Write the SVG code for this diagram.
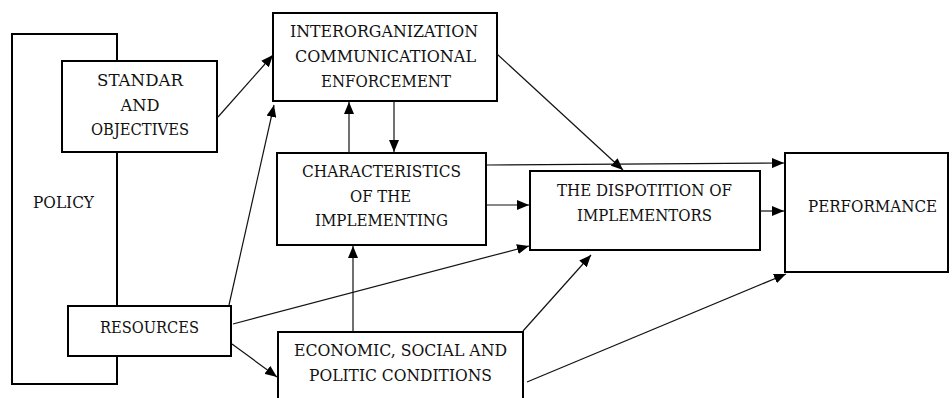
<svg xmlns="http://www.w3.org/2000/svg" width="952" height="398" viewBox="0 0 952 398">
  <style>
    .box { fill: #fff; stroke: #000; stroke-width: 2; }
    .frame { fill: none; stroke: #000; stroke-width: 2; }
    .lbl { font-family: "DejaVu Serif", "Liberation Serif", serif; font-size: 16px; fill: #111; text-anchor: middle; }
    .edge { fill: none; stroke: #111; stroke-width: 1.2; marker-end: url(#arrow); }
  </style>
  <defs>
    <marker id="arrow" markerUnits="userSpaceOnUse" markerWidth="12" markerHeight="10" refX="12" refY="5" orient="auto">
      <path d="M0,0 L12,5 L0,10 z" fill="#000"/>
    </marker>
  </defs>
  <rect width="952" height="398" fill="#fff"/>

  <!-- policy frame behind its two components -->
  <g id="policy">
    <rect class="frame" x="12" y="34" width="105" height="350"/>
    <text class="lbl" x="63.5" y="208" textLength="61" lengthAdjust="spacingAndGlyphs">POLICY</text>
  </g>

  <g id="standar">
    <rect class="box" x="62" y="61" width="155" height="91"/>
    <text class="lbl" x="140" y="86" textLength="86" lengthAdjust="spacingAndGlyphs">STANDAR</text>
    <text class="lbl" x="140" y="111" textLength="39" lengthAdjust="spacingAndGlyphs">AND</text>
    <text class="lbl" x="140" y="135" textLength="98" lengthAdjust="spacingAndGlyphs">OBJECTIVES</text>
  </g>

  <g id="resources">
    <rect class="box" x="68" y="306" width="163" height="50"/>
    <text class="lbl" x="149.5" y="333" textLength="99" lengthAdjust="spacingAndGlyphs">RESOURCES</text>
  </g>

  <g id="interorganization">
    <rect class="box" x="273" y="13" width="224" height="88"/>
    <text class="lbl" x="384" y="37" textLength="188" lengthAdjust="spacingAndGlyphs">INTERORGANIZATION</text>
    <text class="lbl" x="385.5" y="62" textLength="181" lengthAdjust="spacingAndGlyphs">COMMUNICATIONAL</text>
    <text class="lbl" x="386" y="87" textLength="130" lengthAdjust="spacingAndGlyphs">ENFORCEMENT</text>
  </g>

  <g id="characteristics">
    <rect class="box" x="277" y="153" width="209" height="92"/>
    <text class="lbl" x="381.5" y="177" textLength="159" lengthAdjust="spacingAndGlyphs">CHARACTERISTICS</text>
    <text class="lbl" x="380.5" y="202" textLength="61" lengthAdjust="spacingAndGlyphs">OF THE</text>
    <text class="lbl" x="381.5" y="226" textLength="133" lengthAdjust="spacingAndGlyphs">IMPLEMENTING</text>
  </g>

  <g id="conditions">
    <rect class="box" x="278" y="332" width="245" height="80"/>
    <text class="lbl" x="400.5" y="356" textLength="213" lengthAdjust="spacingAndGlyphs">ECONOMIC, SOCIAL AND</text>
    <text class="lbl" x="400.5" y="381" textLength="183" lengthAdjust="spacingAndGlyphs">POLITIC CONDITIONS</text>
  </g>

  <g id="disposition">
    <rect class="box" x="530" y="171" width="230" height="79"/>
    <text class="lbl" x="644.5" y="196" textLength="175" lengthAdjust="spacingAndGlyphs">THE DISPOTITION OF</text>
    <text class="lbl" x="644.5" y="221" textLength="135" lengthAdjust="spacingAndGlyphs">IMPLEMENTORS</text>
  </g>

  <g id="performance">
    <rect class="box" x="785" y="153" width="163" height="119"/>
    <text class="lbl" x="872.5" y="212" textLength="129" lengthAdjust="spacingAndGlyphs">PERFORMANCE</text>
  </g>

  <g id="connectors">
    <line class="edge" x1="218" y1="117" x2="273" y2="55"/>
    <line class="edge" x1="229" y1="305" x2="274" y2="105"/>
    <line class="edge" x1="233" y1="324" x2="529" y2="246"/>
    <line class="edge" x1="232" y1="344" x2="277" y2="377"/>
    <line class="edge" x1="349" y1="153" x2="349" y2="102"/>
    <line class="edge" x1="394" y1="101" x2="394" y2="152"/>
    <line class="edge" x1="497" y1="54" x2="623" y2="170"/>
    <line class="edge" x1="486" y1="165" x2="784" y2="163"/>
    <line class="edge" x1="486" y1="205" x2="529" y2="205"/>
    <line class="edge" x1="353" y1="332" x2="353" y2="246"/>
    <line class="edge" x1="523" y1="331" x2="591" y2="255"/>
    <line class="edge" x1="527" y1="382" x2="786" y2="274"/>
    <line class="edge" x1="760" y1="211" x2="784" y2="211"/>
  </g>
</svg>
